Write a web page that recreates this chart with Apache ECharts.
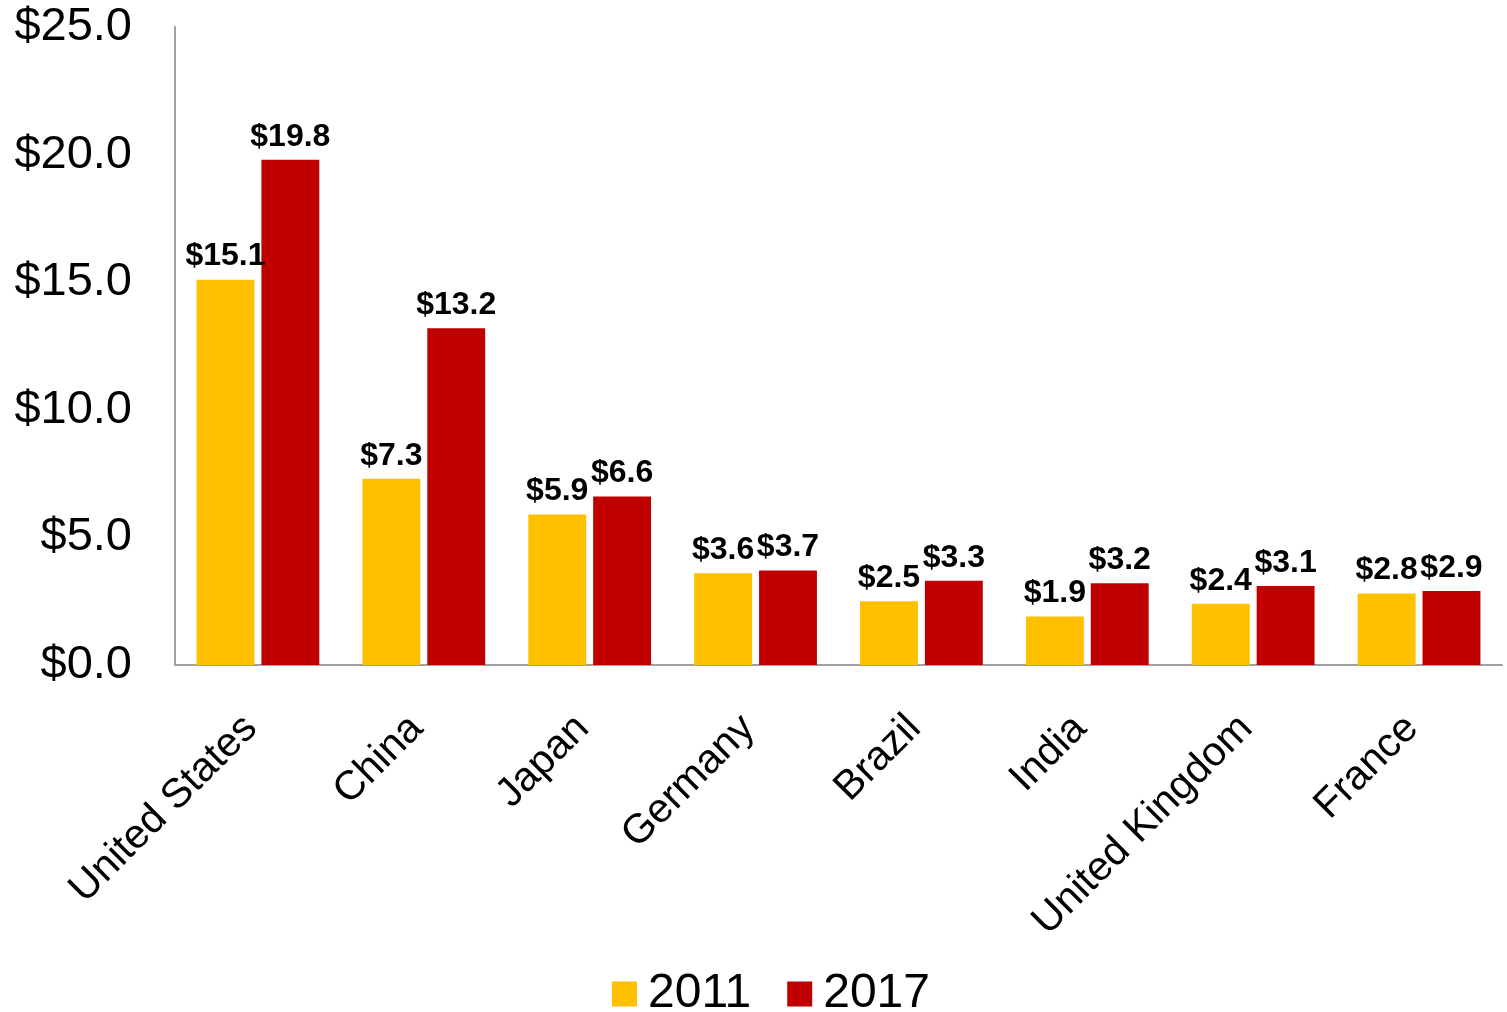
<!DOCTYPE html>
<html>
<head>
<meta charset="utf-8">
<script src="https://cdn.jsdelivr.net/npm/echarts@6/dist/echarts.min.js"></script>
<style>
  html, body { margin: 0; padding: 0; background: #fff; }
  #chart { width: 1507px; height: 1012px; }
</style>
</head>
<body>
<div id="chart"></div>
<script>
// countries on the x axis
const countries = ['United States', 'China', 'Japan', 'Germany', 'Brazil', 'India', 'United Kingdom', 'France']
// GDP values (trillions)
const values2011 = [15.1, 7.3, 5.9, 3.6, 2.5, 1.9, 2.4, 2.8]
const values2017 = [19.8, 13.2, 6.6, 3.7, 3.3, 3.2, 3.1, 2.9]
const seriesNames = ['2011', '2017']

const money = v => '$' + Number(v).toFixed(1)

let chart = echarts.init(document.getElementById('chart'))
let labelStyle = {
  show: true,
  position: 'top',
  distance: 7,
  formatter: p => money(p.value),
  fontFamily: 'Liberation Sans, Arial, sans-serif',
  fontWeight: 'bold',
  fontSize: 32,
  color: '#000'
}
let option = {
  animation: false,
  textStyle: { fontFamily: 'Liberation Sans, Arial, sans-serif' },
  grid: {
    left: 175,
    right: 5,
    top: 27,
    bottom: 347
  },
  legend: {
    data: seriesNames,
    top: 965,
    left: 607,
    itemWidth: 25,
    itemHeight: 25,
    itemGap: 36,
    icon: 'rect',
    textStyle: { fontSize: 48, color: '#000', padding: [0, 0, 0, 6] }
  },
  xAxis: {
    type: 'category',
    data: countries,
    axisLine: { lineStyle: { color: '#a0a0a0', width: 2 } },
    axisTick: { show: false },
    axisLabel: {
      rotate: 45,
      interval: 0,
      margin: 50,
      fontSize: 41,
      padding: [0, 10, 0, 0],
      color: '#000'
    }
  },
  yAxis: {
    type: 'value',
    min: 0,
    max: 25,
    interval: 5,
    splitLine: { show: false },
    axisLine: { show: true, lineStyle: { color: '#a0a0a0', width: 2 } },
    axisTick: { show: false },
    axisLabel: {
      formatter: v => money(v),
      fontSize: 47,
      margin: 43,
      color: '#000'
    }
  },
  series: [
    {
      name: seriesNames[0],
      type: 'bar',
      data: values2011,
      barGap: '12%',
      barCategoryGap: '26%',
      itemStyle: { color: '#FFC000' },
      label: labelStyle
    },
    {
      name: seriesNames[1],
      type: 'bar',
      data: values2017,
      itemStyle: { color: '#C00000' },
      label: labelStyle
    }
  ]
}
chart.setOption(option)
</script>
</body>
</html>
